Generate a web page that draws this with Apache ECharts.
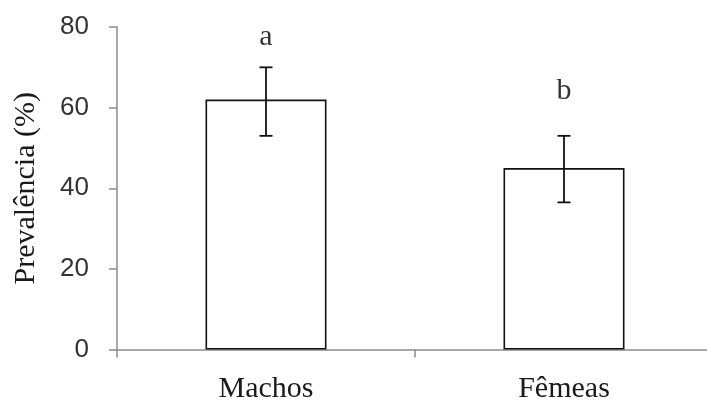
<!DOCTYPE html>
<html>
<head>
<meta charset="utf-8">
<script src="https://cdn.jsdelivr.net/npm/echarts@6/dist/echarts.min.js"></script>
<style>
  html, body { margin: 0; padding: 0; background: #fff; }
  #chart { width: 707px; height: 401px; }
</style>
</head>
<body>
<div id="chart"></div>
<script>
// Prevalence by sex, with error bars and significance letters
const categories = ['Machos', 'Fêmeas'];
const prevalence = [62, 45];
const errLow = [53, 36.5];
const errHigh = [70, 53];
const letters = ['a', 'b'];
const letterAt = [77.5, 64];   // y value (in %) where each letter sits
const yTicks = { min: 0, max: 80, step: 20 };

const axisGray = '#8c8c8c';
const ink = '#111';

const chart = echarts.init(document.getElementById('chart'), null, { renderer: 'canvas' });

chart.setOption({
  animation: false,
  backgroundColor: '#fff',
  // the plot area runs past the right edge of the canvas
  grid: { left: 117, top: 27, width: 596, height: 322.5, outerBoundsMode: 'none', containLabel: false },
  xAxis: {
    type: 'category',
    data: categories,
    boundaryGap: true,
    axisLine: { lineStyle: { color: axisGray, width: 1.5 } },
    axisTick: { show: true, length: 8, lineStyle: { color: axisGray, width: 1.5 } },
    axisLabel: {
      margin: 25,
      fontFamily: 'Liberation Serif, Times New Roman, serif',
      fontSize: 30,
      color: '#1a1a1a'
    }
  },
  yAxis: {
    type: 'value',
    min: yTicks.min,
    max: yTicks.max,
    interval: yTicks.step,
    name: 'Prevalência (%)',
    nameLocation: 'middle',
    nameGap: 76,
    nameTextStyle: {
      fontFamily: 'Liberation Serif, Times New Roman, serif',
      fontSize: 30,
      color: '#1a1a1a'
    },
    axisLine: { show: true, lineStyle: { color: axisGray, width: 1.5 } },
    axisTick: { show: true, length: 8, lineStyle: { color: axisGray, width: 1.5 } },
    splitLine: { show: false },
    axisLabel: {
      margin: 28,
      fontFamily: 'Liberation Sans, Arial, sans-serif',
      fontSize: 26,
      color: '#333'
    }
  },
  series: [
    {
      type: 'bar',
      data: prevalence,
      barWidth: 121,
      itemStyle: { color: '#fff', borderColor: ink, borderWidth: 1.6 },
      z: 2
    },
    {
      type: 'custom',
      z: 3,
      data: categories.map((c, i) => [i, errLow[i], errHigh[i]]),
      renderItem: function (params, api) {
        const x = api.value(0);
        const lo = api.coord([x, api.value(1)]);
        const hi = api.coord([x, api.value(2)]);
        const half = 6.5;
        const style = { stroke: ink, lineWidth: 1.8 };
        return {
          type: 'group',
          children: [
            { type: 'line', shape: { x1: lo[0], y1: lo[1], x2: hi[0], y2: hi[1] }, style },
            { type: 'line', shape: { x1: hi[0] - half, y1: hi[1], x2: hi[0] + half, y2: hi[1] }, style },
            { type: 'line', shape: { x1: lo[0] - half, y1: lo[1], x2: lo[0] + half, y2: lo[1] }, style }
          ]
        };
      }
    },
    {
      type: 'scatter',
      symbolSize: 0,
      z: 4,
      data: categories.map((c, i) => [i, letterAt[i]]),
      label: {
        show: true,
        position: 'inside',
        formatter: p => letters[p.dataIndex],
        fontFamily: 'Liberation Serif, Times New Roman, serif',
        fontSize: 30,
        color: '#000'
      }
    }
  ]
});
</script>
</body>
</html>
